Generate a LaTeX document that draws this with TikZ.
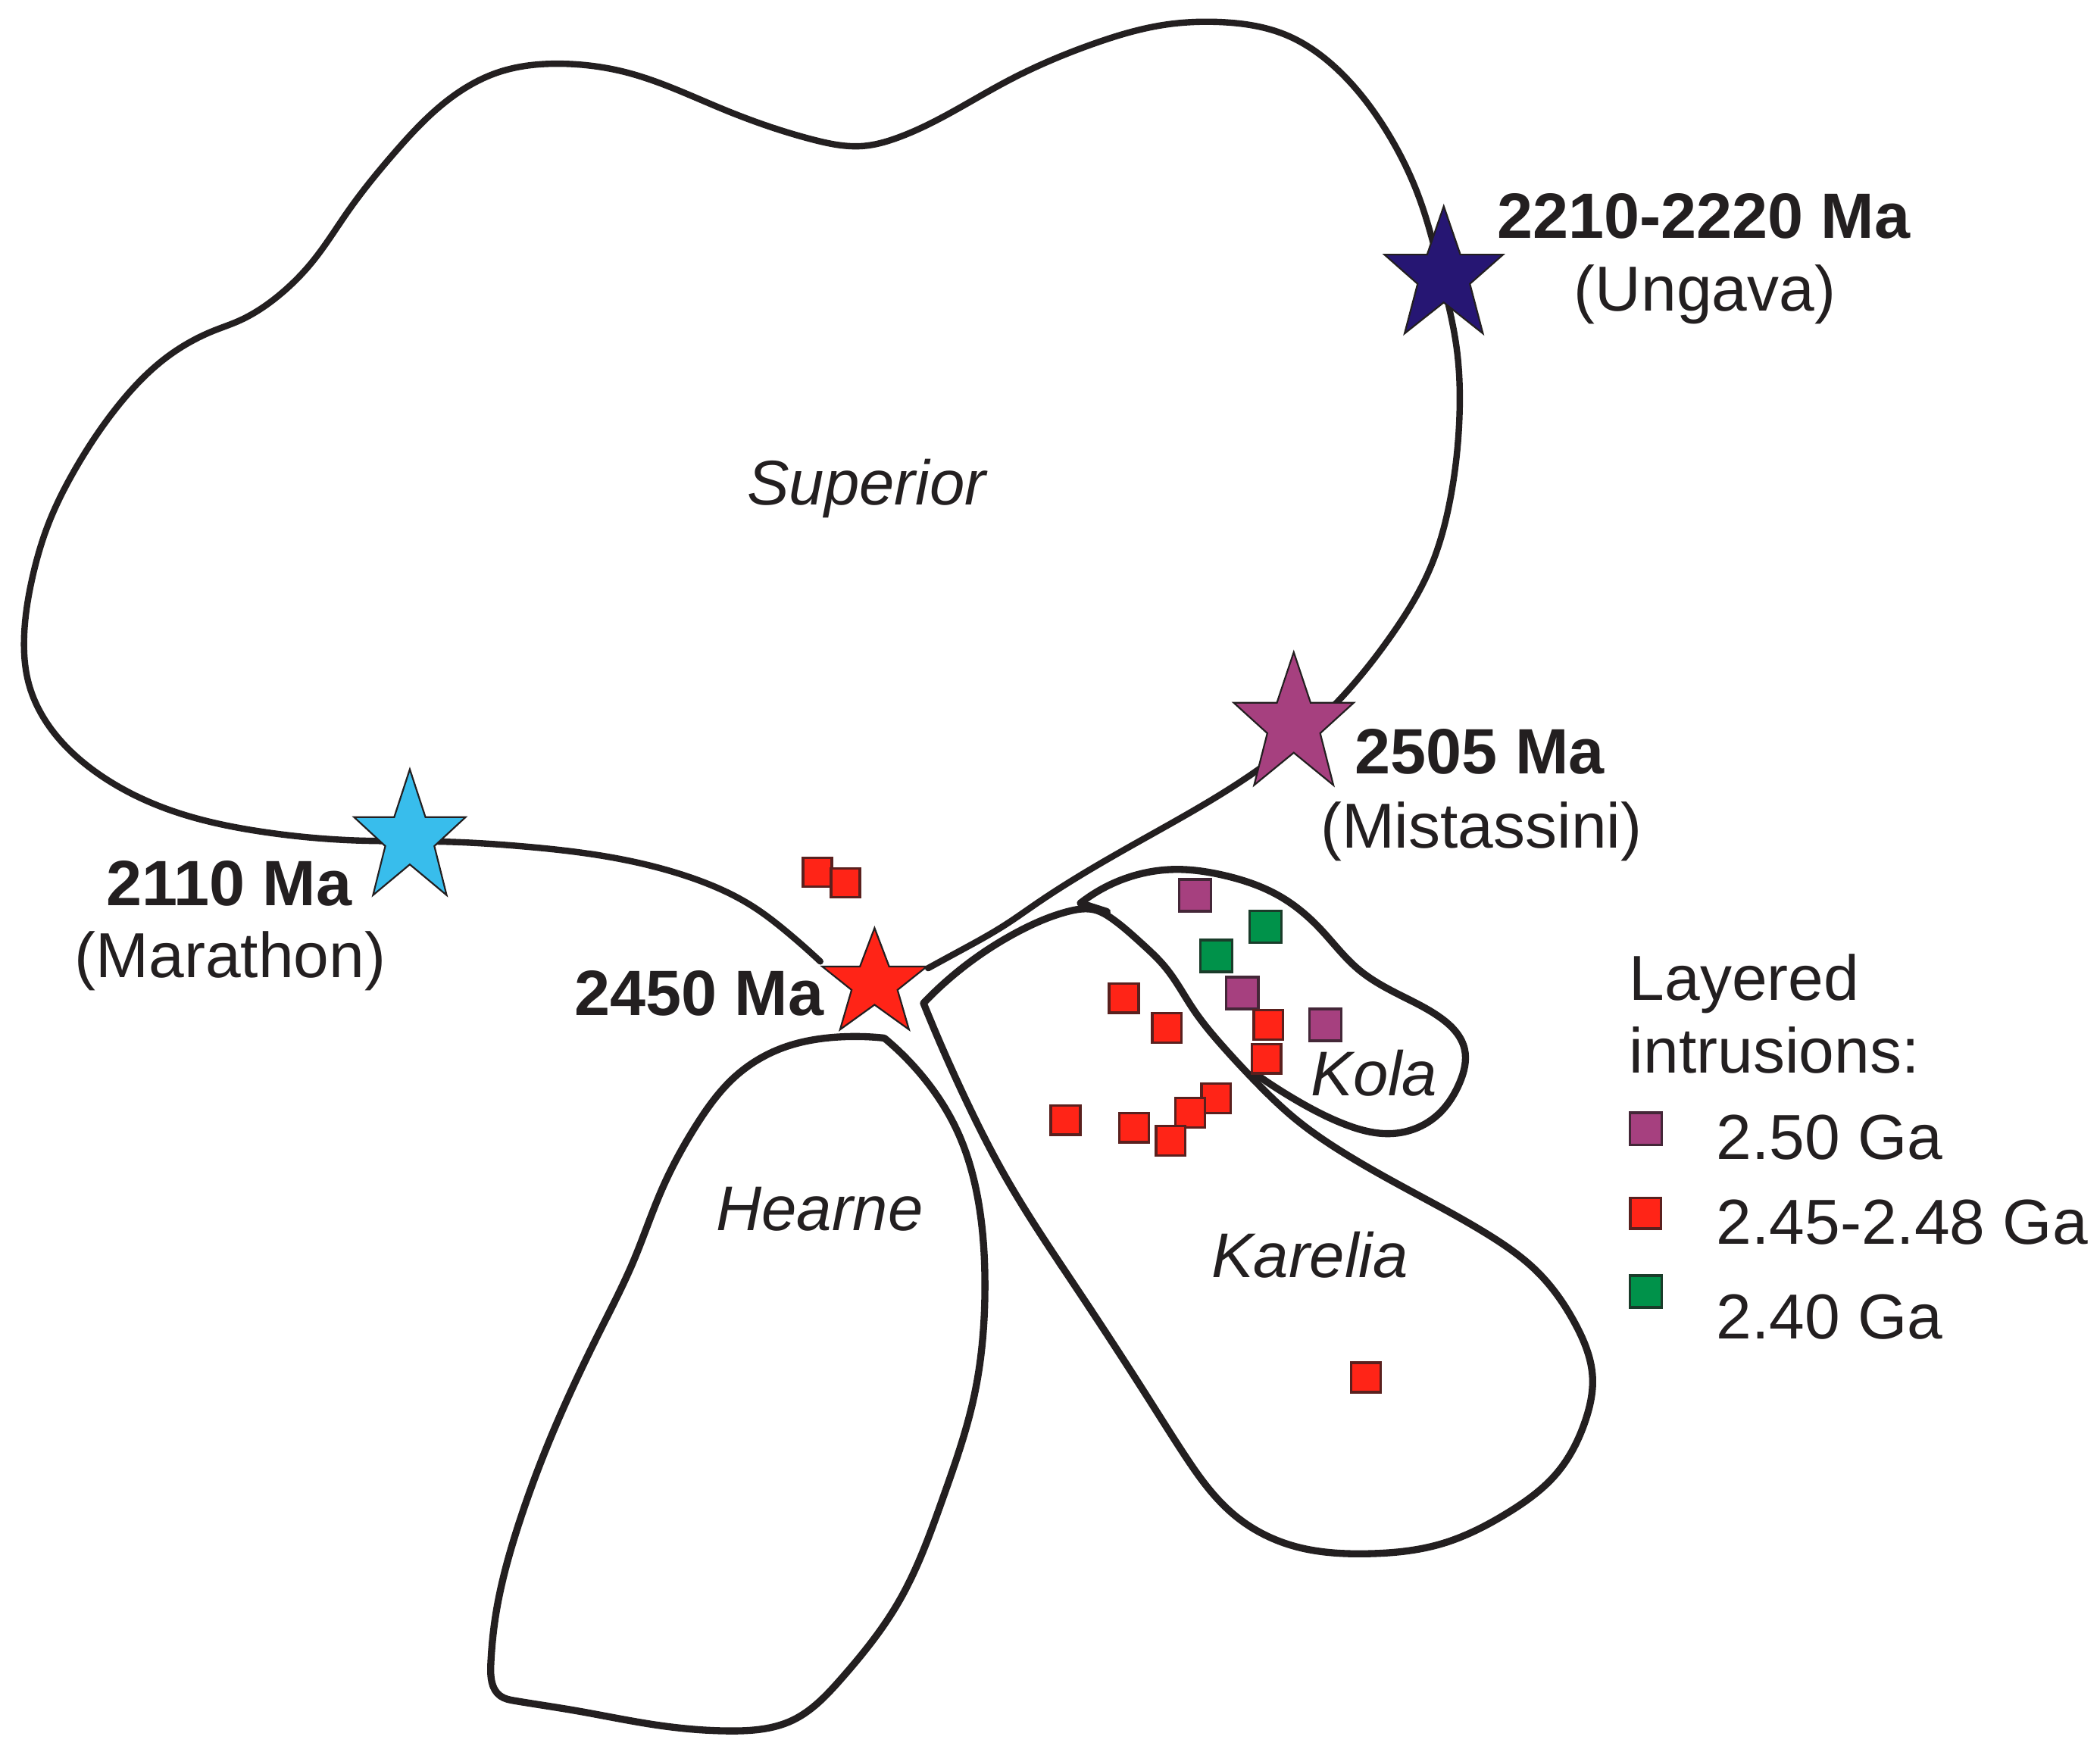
\documentclass[tikz,border=0pt]{standalone}
\usepackage{fontspec}
\usetikzlibrary{hobby}
\setmainfont{Liberation Sans}
\definecolor{ink}{HTML}{231F20}
\definecolor{cnavy}{HTML}{261673}
\definecolor{cplum}{HTML}{A6407F}
\definecolor{csky}{HTML}{38BDEC}
\definecolor{cred}{HTML}{FF2417}
\definecolor{cgreen}{HTML}{00924A}
\tikzset{
  craton/.style={draw=ink,line width=1.5pt,line join=round,line cap=round,use Hobby shortcut},
  supercraton/.style={draw=ink,line width=1.35pt,line join=round,line cap=round,use Hobby shortcut},
  lab/.style={font=\fontsize{13.5pt}{15pt}\selectfont,text=ink,inner sep=0pt,anchor=base},
  labb/.style={font=\fontsize{13.6pt}{15pt}\selectfont\bfseries,text=ink,inner sep=0pt,anchor=base},
  labi/.style={font=\fontsize{13.4pt}{15pt}\selectfont\itshape,text=ink,inner sep=0pt,anchor=base},
  legl/.style={lab,anchor=base west},
  starshape/.style={draw=ink,line width=0.35pt,line join=miter},
}
\newcommand{\mystar}[5]{% cx, top, w, h, colour
  \begin{scope}[shift={(#1,#2)},x=#3*0.0001cm,y=-#4*0.0001cm]
  \filldraw[starshape,fill=#5] (0,0) -- (14,38) -- (50,38) -- (22,61) -- (33,100) -- (0,75.6) -- (-33,100) -- (-22,61) -- (-50,38) -- (-14,38) -- cycle;
  \end{scope}}
\newcommand{\sq}[4]{% x,y,size,colour
  \filldraw[draw=ink!75!#4,line width=0.55pt,fill=#4] (#1-#3/2,#2-#3/2) rectangle (#1+#3/2,#2+#3/2);}
\begin{document}
\begin{tikzpicture}[x=0.01cm,y=-0.01cm]
\useasboundingbox[fill=white] (0,0) rectangle (1568,1306.1);
% Superior
\draw[supercraton] (612.5,718) .. (587,695.5) .. (563,677.5) .. (511,653.7) .. (459,640.7) .. (390,632) .. (333,628.6) .. (268,627.7) .. (195,621) .. (130,606) .. (73.6,578) .. (39,545.5) .. (21.6,511) .. (18,476) .. (23.8,433) .. (36.8,389.6) .. (56,350.6) .. (86.6,305) .. (125.5,266) .. (160,246.8) .. (177.5,240) .. (208,220.8) .. (233.8,194.8) .. (259.7,158) .. (294,114.7) .. (333,75.8) .. (372,54) .. (420,47.6) .. (467.5,54) .. (541,82) .. (606,104) .. (645,109) .. (669.8,103) .. (752,60.6) .. (817,32.5) .. (869,18.6) .. (912,16.5) .. (960,26) .. (998.8,52) .. (1033.5,95) .. (1059.4,147) .. (1076.7,207.8) .. (1087.6,259.7) .. (1089.7,311.7) .. (1083,372) .. (1068,424) .. (1037.8,476) .. (1001,521.6) .. (938,575.8) .. (851.6,627.7) .. (775,674) .. (750,691) .. (715,711) .. (693,723);
% Hearne
\begin{scope}[shift={(339.4,0)},xscale=.99476,shift={(-339.4,0)}]
\draw[craton] (662,775.2) .. (625.9,774.5) .. (586,782.4) .. (549.7,804.2) .. (520.7,840.5) .. (495.3,887.6) .. (473.6,942) .. (449,993) .. (412,1072.5) .. (386.5,1141.4) .. (370.2,1206.7) .. (366.6,1243) .. (373.8,1266.5) .. (384.7,1270.1) .. (430,1277.4) .. (491.7,1288.3) .. (546,1292.6) .. (593.2,1284.6) .. (629.5,1253.8) .. (673,1195.8) .. (705.6,1119.7) .. (729.2,1043.5) .. (737.5,960.1) .. (732.8,898.5) .. (716.5,844.1) .. (691,804.2) .. (662,775.2);
\end{scope}
% stars
\mystar{1078}{154}{83}{89}{cnavy}
\mystar{966}{487}{84}{93}{cplum}
\mystar{306}{574.5}{78}{88}{csky}
\mystar{653}{693}{73}{71}{cred}
\sq{610.4}{651.5}{21.5}{cred}
\sq{631.2}{659.3}{21.5}{cred}
\begin{scope}[shift={(678.7,639.1)},scale=.99476,shift={(-678.7,-639.1)}]
% Karelia
\draw[craton] (689.6,749.7) .. (722,720.7) .. (762,695.3) .. (798.4,680.8) .. (818.3,679.7) .. (831,686.2) .. (852.8,704.4) .. (870.9,722.5) .. (892.6,755) .. (914.4,782.3) .. (938,807.7) .. (968.8,836.7) .. (1005,862.1) .. (1059.4,893) .. (1113.8,923.7) .. (1150,951) .. (1179,990.8) .. (1191.8,1030.7) .. (1186.3,1063.4) .. (1164.6,1103) .. (1128.3,1132.2) .. (1077.6,1155.8) .. (1023,1163) .. (968.8,1157.6) .. (925.3,1135.9) .. (903.5,1114) .. (885.4,1088.7) .. (860,1049) .. (805.6,965.4) .. (751.2,880.2) .. (722.2,824) .. (689.6,749.7);
% Kola
\draw[craton] (807.4,674.6) .. (838,657.2) .. (878,649.3) .. (914.4,653.6) .. (958,670) .. (987,693.5) .. (1016,724.3) .. (1048.6,744.3) .. (1077.6,760.6) .. (1095.7,784.1) .. (1092,809.5) .. (1074,834.9) .. (1041.3,847.6) .. (1005,840.3) .. (968.8,822.2) .. (938,802.3);
\draw[craton] (807.4,674.6) -- (827.4,681);
% squares
\sq{893.4}{668.8}{24}{cplum}
\sq{946.3}{692.4}{24}{cgreen}
\sq{909.3}{714.2}{24}{cgreen}
\sq{928.9}{742.1}{24}{cplum}
\sq{948.5}{766}{22}{cred}
\sq{991.3}{766}{24}{cplum}
\sq{947}{791.4}{22}{cred}
\sq{840}{746}{22}{cred}
\sq{872.3}{768.2}{22}{cred}
\sq{909.3}{821.1}{22}{cred}
\sq{889.7}{832}{22}{cred}
\sq{875.2}{853}{22}{cred}
\sq{847.7}{843.2}{22}{cred}
\sq{796.2}{837.4}{22}{cred}
\sq{1021.7}{1030.7}{22}{cred}
\sq{1231.7}{844}{24}{cplum}
\sq{1231.7}{907.4}{23}{cred}
\sq{1231.7}{966.2}{24}{cgreen}
\end{scope}
% labels
\node[labb] (u1) at (1272,178) {2210-2220 Ma};
\node[lab] (u2) at (1273,232) {(Ungava)};
\node[labb] (m1) at (1105,578) {2505 Ma};
\node[lab] (m2) at (1106,633) {(Mistassini)};
\node[labb] (t1) at (171,676) {2110 Ma};
\node[lab] (t2) at (172,730) {(Marathon)};
\node[labb] (r1) at (522,758) {2450 Ma};
\node[labi] (s) at (647,377) {Superior};
\node[labi] (h) at (612,919) {Hearne};
\node[labi] (ka) at (978,954) {Karelia};
\node[labi] (ko) at (1026,818) {Kola};
\node[legl] (l1) at (1216,747) {Layered};
\node[legl] (l2) at (1216,801) {intrusions:};
\node[legl] (l3) at (1281,866) {2.50 Ga};
\node[legl] (l4) at (1281,929) {2.45-2.48 Ga};
\node[legl] (l5) at (1281,1000) {2.40 Ga};
\end{tikzpicture}
\end{document}
